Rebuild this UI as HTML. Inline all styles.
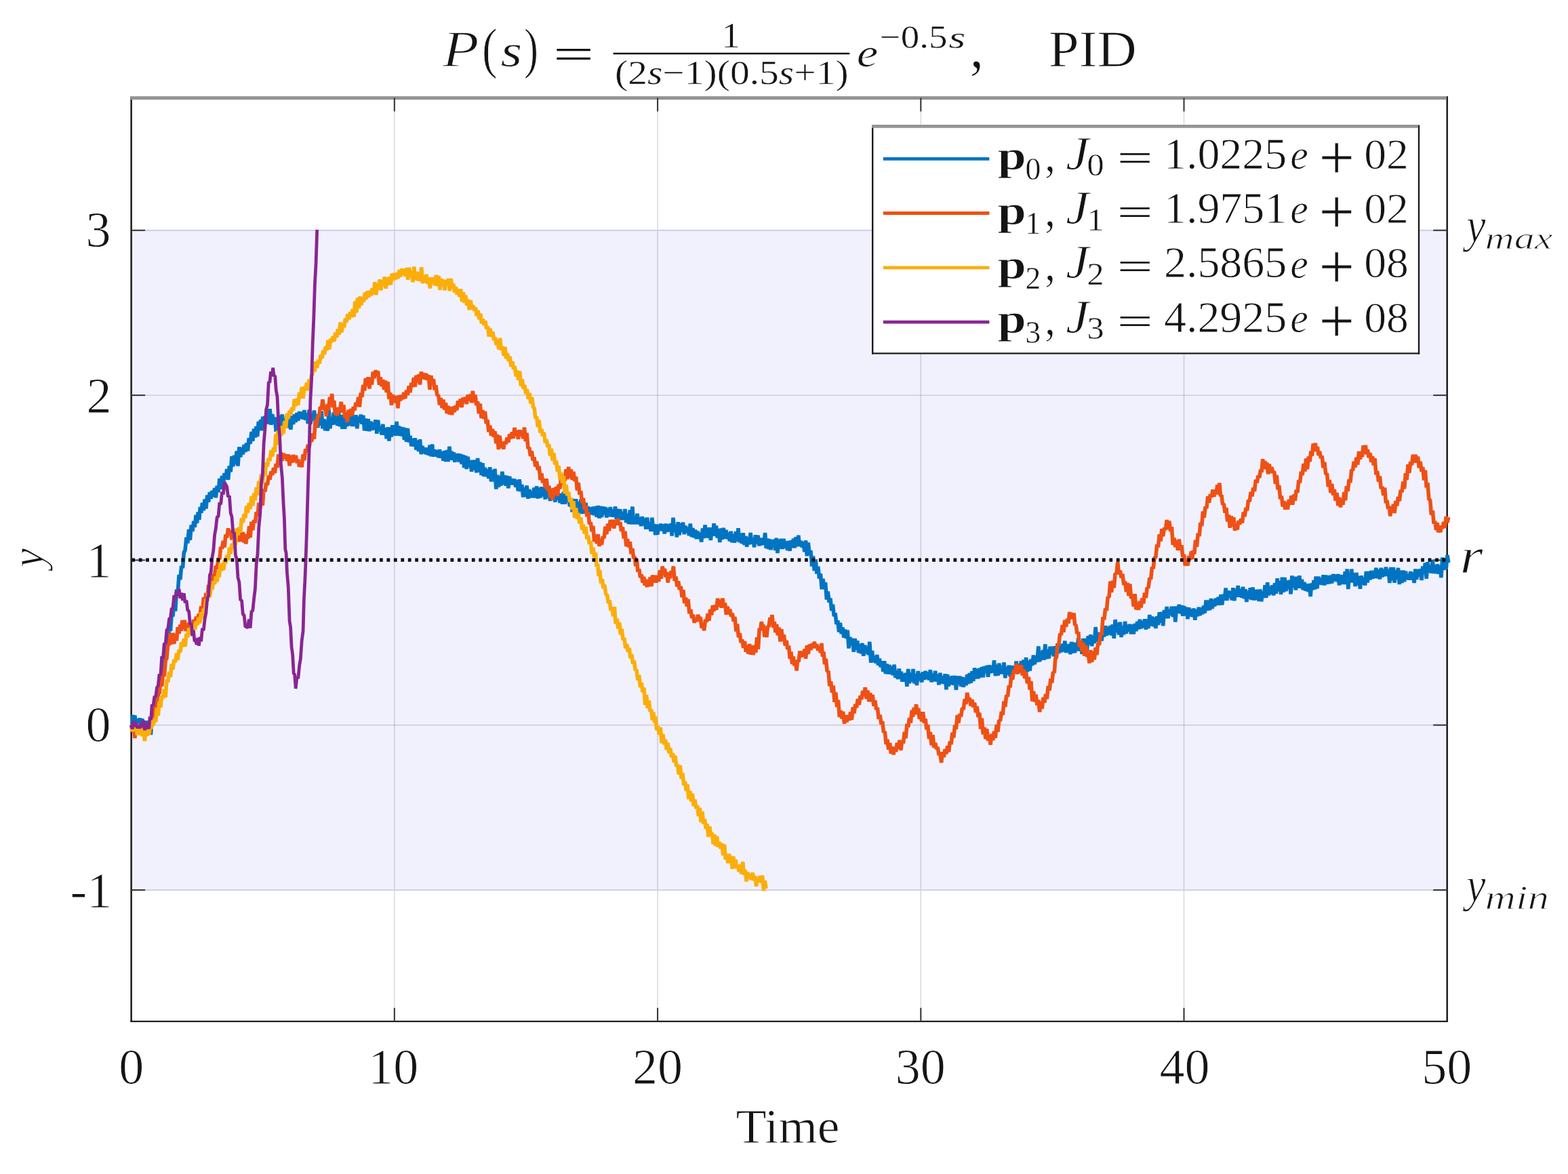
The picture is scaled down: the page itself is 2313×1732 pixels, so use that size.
<!DOCTYPE html>
<html lang="en"><head><meta charset="utf-8"><title>P(s) PID response</title>
<style>html,body{margin:0;padding:0;background:#fff}body{width:2313px;height:1732px}svg{display:block}text{font-family:"Liberation Serif","DejaVu Serif",serif;fill:#141414;stroke:#fff;stroke-linejoin:round}text:not([stroke-width]){stroke-width:0.9px}</style></head><body>
<svg width="2313" height="1732" viewBox="0 0 2313 1732">
<rect x="0" y="0" width="2313" height="1732" fill="#ffffff"/>
<rect x="193.65" y="339.80" width="1941.05" height="973.20" fill="#F1F1FE"/>
<g stroke="#000" stroke-opacity="0.125" stroke-width="1.9" fill="none"><line x1="581.86" y1="144.40" x2="581.86" y2="1506.90"/><line x1="970.07" y1="144.40" x2="970.07" y2="1506.90"/><line x1="1358.28" y1="144.40" x2="1358.28" y2="1506.90"/><line x1="1746.49" y1="144.40" x2="1746.49" y2="1506.90"/><line x1="193.65" y1="1069.70" x2="2134.70" y2="1069.70"/><line x1="193.65" y1="583.10" x2="2134.70" y2="583.10"/></g>
<line x1="193.65" y1="339.90" x2="2134.70" y2="339.90" stroke="#D1CFEE" stroke-width="2.2"/>
<line x1="193.65" y1="1313.10" x2="2134.70" y2="1313.10" stroke="#D6D3E0" stroke-width="2.1"/>
<g stroke="#222" stroke-width="2.6" fill="none" stroke-linecap="butt">
<line x1="193.65" y1="142.00" x2="193.65" y2="1508.10"/>
<line x1="2134.70" y1="142.00" x2="2134.70" y2="1508.10"/>
<line x1="192.35" y1="1506.90" x2="2136.00" y2="1506.90" stroke-width="2.4"/>
</g>
<line x1="192.35" y1="144.40" x2="2133.70" y2="144.40" stroke="#949494" stroke-width="5"/>
<g stroke="#3a3a3a" stroke-width="2.1" fill="none"><line x1="581.86" y1="1506.90" x2="581.86" y2="1486.90"/><line x1="581.86" y1="144.40" x2="581.86" y2="164.40"/><line x1="970.07" y1="1506.90" x2="970.07" y2="1486.90"/><line x1="970.07" y1="144.40" x2="970.07" y2="164.40"/><line x1="1358.28" y1="1506.90" x2="1358.28" y2="1486.90"/><line x1="1358.28" y1="144.40" x2="1358.28" y2="164.40"/><line x1="1746.49" y1="1506.90" x2="1746.49" y2="1486.90"/><line x1="1746.49" y1="144.40" x2="1746.49" y2="164.40"/><line x1="193.65" y1="1313.00" x2="214.15" y2="1313.00"/><line x1="2134.70" y1="1313.00" x2="2114.20" y2="1313.00"/><line x1="193.65" y1="1069.70" x2="214.15" y2="1069.70"/><line x1="2134.70" y1="1069.70" x2="2114.20" y2="1069.70"/><line x1="193.65" y1="826.40" x2="214.15" y2="826.40"/><line x1="2134.70" y1="826.40" x2="2114.20" y2="826.40"/><line x1="193.65" y1="583.10" x2="214.15" y2="583.10"/><line x1="2134.70" y1="583.10" x2="2114.20" y2="583.10"/><line x1="193.65" y1="339.80" x2="214.15" y2="339.80"/><line x1="2134.70" y1="339.80" x2="2114.20" y2="339.80"/></g>
<g fill="none" stroke-width="5.6" stroke-linejoin="bevel" stroke-linecap="butt">
<path stroke="#0074C2" d="M193.4 1069.7 L194.8 1074.4 L196.2 1054.7 L197.5 1069.5 L198.9 1055.5 L200.7 1073.2 L202.5 1060.7 L204.3 1072.6 L206.1 1059.3 L207.9 1078.4 L209.7 1060.2 L211.6 1077.9 L213.4 1065.7 L215.2 1083.4 L217.0 1063.3 L218.8 1075.1 L220.6 1064.4 L222.4 1084.0 L224.2 1062.4 L226.0 1066.4 L227.9 1041.1 L229.7 1045.8 L231.5 1026.8 L233.3 1027.0 L235.1 1007.2 L236.9 1006.7 L238.7 984.6 L240.5 990.7 L242.3 967.1 L244.2 974.0 L246.0 944.6 L247.8 951.6 L249.6 926.1 L251.4 931.0 L253.2 907.1 L255.0 909.2 L256.8 887.5 L258.7 901.7 L260.5 869.6 L262.3 873.5 L264.1 848.0 L265.9 855.0 L267.7 834.8 L269.5 838.1 L271.3 815.0 L273.1 811.9 L275.0 792.8 L276.8 801.4 L278.6 781.1 L280.4 796.9 L282.2 774.5 L284.0 783.8 L285.8 768.8 L287.4 777.8 L289.0 759.8 L290.6 771.7 L292.2 755.6 L293.8 766.9 L295.3 747.9 L296.9 756.6 L298.5 741.8 L300.3 753.3 L302.1 736.6 L303.9 750.6 L305.8 730.4 L307.6 740.7 L309.4 726.2 L311.2 735.9 L313.0 723.9 L314.8 732.6 L316.6 720.1 L318.4 734.2 L320.2 716.9 L322.1 726.2 L323.9 705.9 L325.7 721.8 L327.5 702.0 L329.3 715.3 L331.1 698.0 L332.9 707.0 L334.7 692.0 L336.6 707.8 L338.4 687.2 L340.2 696.3 L342.0 673.2 L343.8 688.1 L345.6 671.9 L347.4 685.2 L349.2 665.5 L351.0 687.6 L352.9 659.4 L354.7 674.3 L356.5 660.4 L358.3 670.5 L360.1 656.2 L361.9 666.8 L363.7 653.7 L365.5 665.3 L367.3 646.3 L369.2 654.8 L371.0 637.0 L372.8 650.8 L374.6 632.5 L376.4 645.4 L378.0 629.0 L379.7 644.0 L381.3 622.0 L382.9 632.8 L384.6 619.3 L386.1 635.2 L387.7 614.7 L389.3 625.9 L390.9 613.8 L392.7 624.5 L394.5 604.6 L396.3 625.8 L398.1 603.3 L400.0 626.7 L401.8 611.0 L403.6 625.6 L405.4 615.6 L407.2 636.8 L409.0 616.3 L410.8 628.7 L412.6 613.2 L414.4 628.1 L416.3 611.4 L418.1 630.3 L419.9 617.5 L421.7 631.0 L423.5 613.7 L425.3 631.1 L427.1 617.7 L428.9 633.8 L430.8 613.4 L432.6 625.9 L434.4 611.4 L436.2 622.8 L438.0 609.2 L439.8 620.6 L441.6 607.2 L443.4 617.4 L445.2 607.7 L447.1 618.5 L448.9 605.1 L450.7 619.7 L452.5 609.3 L454.3 625.0 L456.1 604.6 L457.9 625.8 L459.7 610.5 L461.6 621.2 L463.4 605.5 L465.2 619.5 L467.0 611.2 L468.8 631.0 L470.6 613.7 L472.4 627.6 L474.2 606.4 L476.0 632.4 L477.9 618.3 L479.7 635.2 L481.5 620.4 L483.3 635.6 L485.1 604.6 L486.9 632.2 L488.7 616.1 L490.5 626.7 L492.3 608.4 L494.2 626.2 L496.0 610.6 L497.8 627.9 L499.6 607.7 L501.4 629.2 L503.2 612.1 L505.0 632.8 L506.8 612.6 L508.7 632.7 L510.5 613.7 L512.3 629.0 L514.1 612.5 L515.9 627.5 L517.7 613.0 L519.5 628.9 L521.3 612.6 L523.1 628.9 L525.0 612.2 L526.8 632.2 L528.6 614.6 L530.4 623.4 L532.2 611.7 L534.0 625.7 L535.8 612.6 L537.6 635.3 L539.4 617.6 L541.3 635.6 L543.1 618.1 L544.9 636.1 L546.7 621.7 L548.5 634.5 L550.3 623.5 L552.1 633.7 L553.9 619.3 L555.8 639.8 L557.6 619.8 L559.4 636.3 L561.2 629.5 L563.0 641.2 L564.8 625.7 L566.6 641.7 L568.4 631.3 L570.2 647.2 L572.1 630.2 L573.9 650.5 L575.7 630.5 L577.2 644.4 L578.8 627.2 L580.4 642.0 L581.9 627.6 L583.5 642.9 L585.1 622.0 L586.7 642.5 L588.3 628.5 L589.9 643.0 L591.6 629.9 L593.2 643.4 L594.8 630.4 L596.4 649.0 L598.0 631.5 L599.6 651.7 L601.4 632.1 L603.2 652.4 L605.0 642.8 L606.8 658.2 L608.6 647.2 L610.4 658.6 L612.2 646.4 L614.0 663.7 L615.9 649.7 L617.7 666.0 L619.5 648.2 L621.3 670.0 L623.1 657.9 L624.9 668.7 L626.7 660.5 L628.5 670.2 L630.3 660.7 L632.2 671.4 L634.0 656.7 L635.8 673.3 L637.6 655.5 L639.4 673.6 L641.2 663.4 L643.0 673.1 L644.8 664.3 L646.7 674.9 L648.5 663.2 L650.3 675.7 L652.1 666.5 L653.9 679.5 L655.7 665.0 L657.5 681.0 L659.3 664.1 L661.1 680.9 L663.0 658.8 L664.5 678.0 L666.1 665.8 L667.7 678.9 L669.3 667.4 L670.9 681.8 L672.5 669.5 L674.1 679.5 L675.6 669.2 L677.4 681.5 L679.3 669.9 L681.1 684.7 L682.9 670.9 L684.7 690.1 L686.5 672.3 L688.3 691.9 L690.1 673.8 L691.9 689.1 L693.8 679.4 L695.6 695.8 L697.4 678.8 L699.2 693.2 L701.0 678.7 L702.8 697.3 L704.6 675.9 L706.4 696.3 L708.2 681.7 L710.1 700.9 L711.9 683.2 L713.7 702.8 L715.5 690.0 L717.3 703.0 L719.1 692.4 L720.9 705.8 L722.7 689.2 L724.6 710.5 L726.4 693.6 L728.2 710.1 L730.0 691.7 L731.8 721.6 L733.6 700.8 L735.4 718.6 L737.2 702.0 L739.0 716.6 L740.9 695.8 L742.7 715.0 L744.5 701.3 L746.3 716.6 L748.1 702.1 L749.9 720.1 L751.7 703.0 L753.5 714.9 L755.3 706.2 L757.2 715.3 L759.0 706.7 L760.8 718.5 L762.6 708.5 L764.4 724.5 L766.2 707.3 L768.0 725.0 L769.8 715.0 L771.7 733.4 L773.5 719.1 L775.3 732.8 L777.1 716.4 L778.9 735.7 L780.7 722.0 L782.5 734.3 L784.3 724.7 L786.1 734.0 L788.0 719.5 L789.8 734.3 L791.6 717.3 L793.4 735.4 L795.2 719.6 L797.0 734.5 L798.8 718.4 L800.6 732.5 L802.4 718.6 L804.3 736.6 L806.1 716.1 L807.9 734.7 L809.7 716.8 L811.5 739.0 L813.3 725.2 L815.1 737.3 L816.9 725.8 L818.8 740.6 L820.6 726.9 L822.4 737.1 L824.2 727.9 L826.0 742.0 L827.8 728.1 L829.6 743.8 L831.4 725.6 L833.2 743.7 L835.1 729.9 L836.9 741.2 L838.7 731.9 L840.5 747.2 L842.3 735.1 L844.1 755.2 L845.9 736.2 L847.7 748.9 L849.6 736.4 L851.4 753.7 L853.2 740.2 L855.0 756.4 L856.8 737.0 L858.6 757.9 L860.4 746.0 L862.2 757.2 L864.0 741.8 L865.9 758.0 L867.7 747.5 L869.5 757.2 L871.3 748.7 L873.1 759.2 L874.9 747.7 L876.7 760.2 L878.5 747.2 L880.3 762.6 L882.2 746.1 L884.0 764.6 L885.8 746.7 L887.6 762.9 L889.4 747.4 L891.2 759.0 L893.0 748.0 L894.8 763.5 L896.7 749.9 L898.5 761.9 L900.3 748.0 L902.1 762.3 L903.9 751.8 L905.7 762.6 L907.5 747.4 L909.3 765.6 L911.1 750.7 L913.0 767.2 L914.8 751.4 L916.6 767.0 L918.4 755.2 L920.2 766.8 L922.0 751.0 L923.8 770.9 L925.6 758.2 L927.4 773.0 L929.3 752.6 L931.1 773.4 L932.9 747.5 L934.7 773.3 L936.5 762.6 L938.3 773.2 L940.1 757.9 L941.9 773.4 L943.8 763.5 L945.6 776.1 L947.4 762.1 L949.2 775.0 L951.0 764.5 L952.8 780.6 L954.6 763.6 L956.4 780.2 L958.2 770.7 L960.1 783.9 L961.9 763.8 L963.7 783.6 L965.2 773.2 L966.8 789.1 L968.4 773.6 L969.9 788.7 L971.5 774.0 L973.1 782.8 L974.9 772.7 L976.7 783.2 L978.5 773.5 L980.3 787.3 L982.1 772.7 L983.9 784.8 L985.7 773.7 L987.6 784.1 L989.4 772.4 L991.2 790.5 L993.0 763.8 L994.8 784.7 L996.6 773.9 L998.4 792.6 L1000.2 770.2 L1002.0 789.4 L1003.9 772.1 L1005.7 784.8 L1007.5 770.7 L1009.3 788.2 L1011.1 775.7 L1012.9 785.9 L1014.7 778.0 L1016.5 790.1 L1018.3 772.6 L1020.2 792.1 L1022.0 779.0 L1023.8 793.1 L1025.6 781.7 L1027.4 795.0 L1029.2 783.6 L1031.0 794.9 L1032.8 786.1 L1034.7 799.5 L1036.5 779.6 L1038.3 794.1 L1040.1 774.5 L1041.9 793.1 L1043.5 778.5 L1045.2 793.7 L1046.8 778.2 L1048.4 796.9 L1050.1 779.8 L1051.6 789.8 L1053.1 772.2 L1054.6 790.8 L1056.4 775.5 L1058.2 793.5 L1060.0 780.2 L1061.8 799.9 L1063.6 779.6 L1065.4 796.0 L1067.3 778.7 L1069.1 794.6 L1070.9 782.0 L1072.7 795.1 L1074.5 785.6 L1076.3 798.3 L1078.1 783.8 L1079.9 800.3 L1081.8 788.2 L1083.6 800.7 L1085.4 784.3 L1087.2 798.5 L1089.0 779.2 L1090.8 800.1 L1092.6 787.0 L1094.4 801.9 L1096.2 786.4 L1098.1 803.9 L1099.9 791.1 L1101.7 806.6 L1103.5 792.6 L1105.3 803.2 L1107.1 786.1 L1108.9 802.5 L1110.7 793.7 L1112.6 807.3 L1114.4 789.3 L1116.2 802.4 L1118.0 789.8 L1119.8 805.3 L1121.6 793.8 L1123.4 804.4 L1125.2 793.8 L1126.9 803.5 L1128.6 786.1 L1130.2 808.8 L1131.9 794.5 L1133.5 809.9 L1135.2 795.4 L1136.9 811.1 L1138.6 796.9 L1140.2 806.0 L1141.9 795.9 L1143.6 811.9 L1145.3 793.8 L1147.0 816.1 L1148.8 795.7 L1150.6 809.5 L1152.4 794.8 L1154.2 809.8 L1156.0 794.9 L1157.8 808.6 L1159.7 798.5 L1161.5 812.0 L1163.3 798.2 L1165.1 812.8 L1166.9 797.2 L1168.7 807.8 L1170.5 794.6 L1172.3 808.3 L1174.1 792.2 L1176.0 806.2 L1177.8 789.7 L1179.6 805.8 L1181.4 797.9 L1183.2 807.6 L1185.0 799.3 L1186.8 814.2 L1188.6 797.4 L1190.4 820.3 L1192.3 800.5 L1194.1 818.0 L1195.9 812.0 L1197.7 835.5 L1199.5 820.4 L1201.3 841.9 L1203.1 825.3 L1204.9 846.4 L1206.8 835.9 L1208.6 853.5 L1210.4 846.1 L1212.2 869.3 L1214.0 853.9 L1215.8 868.6 L1217.6 859.3 L1219.4 884.6 L1221.2 872.6 L1223.1 888.6 L1224.9 882.6 L1226.7 901.0 L1228.5 891.7 L1230.3 909.1 L1232.1 904.3 L1233.9 920.9 L1235.7 915.3 L1237.6 932.5 L1239.4 918.8 L1241.2 935.1 L1243.0 925.6 L1244.8 940.7 L1246.6 928.6 L1248.4 941.9 L1250.2 929.8 L1252.0 956.5 L1253.9 940.0 L1255.7 950.9 L1257.5 941.9 L1259.3 961.7 L1261.1 942.1 L1262.9 959.0 L1264.7 945.2 L1266.5 963.0 L1268.3 950.5 L1270.2 964.0 L1272.0 948.9 L1273.8 967.8 L1275.6 951.7 L1277.4 964.1 L1279.2 954.2 L1281.0 966.2 L1282.8 946.8 L1284.7 977.7 L1286.5 960.0 L1288.3 976.8 L1290.1 968.1 L1291.9 978.2 L1293.7 966.2 L1295.5 981.5 L1297.3 971.7 L1299.1 984.2 L1301.0 975.4 L1302.8 990.9 L1304.6 975.2 L1306.4 994.0 L1308.2 979.6 L1310.0 994.5 L1311.8 980.9 L1313.6 994.6 L1315.4 982.8 L1317.3 996.2 L1319.1 980.6 L1320.9 999.8 L1322.7 989.7 L1324.5 1001.8 L1326.3 986.6 L1327.9 1001.5 L1329.4 990.9 L1330.9 1005.7 L1332.5 993.9 L1334.3 1005.6 L1336.1 992.8 L1337.9 1012.8 L1339.7 987.0 L1341.5 1008.2 L1343.3 992.5 L1345.2 1005.5 L1347.0 987.1 L1348.8 1008.3 L1350.6 994.2 L1352.4 1011.0 L1354.2 990.0 L1356.0 1004.3 L1357.8 993.4 L1359.7 1006.5 L1361.5 991.4 L1363.3 1002.8 L1365.1 990.0 L1366.9 1001.7 L1368.7 991.6 L1370.5 1003.4 L1372.3 988.2 L1374.1 1006.3 L1376.0 993.7 L1377.8 1005.1 L1379.6 989.9 L1381.4 1005.5 L1383.2 995.1 L1385.0 1010.3 L1386.8 992.8 L1388.6 1008.2 L1390.4 997.4 L1392.3 1008.9 L1394.1 994.3 L1395.9 1017.3 L1397.7 995.1 L1399.5 1012.4 L1401.3 998.0 L1403.1 1009.8 L1404.9 997.1 L1406.8 1010.6 L1408.6 996.9 L1410.4 1017.7 L1412.2 997.6 L1414.0 1009.6 L1415.8 997.5 L1417.6 1012.7 L1419.4 998.9 L1421.2 1013.7 L1423.1 999.8 L1424.9 1011.3 L1426.7 995.1 L1428.5 1009.0 L1430.3 993.1 L1432.1 1007.7 L1433.9 990.3 L1435.7 1004.9 L1437.6 985.4 L1439.4 1001.3 L1441.2 986.9 L1443.0 1001.2 L1444.8 985.8 L1446.6 999.5 L1448.4 984.0 L1450.2 999.2 L1452.0 983.1 L1453.9 992.5 L1455.7 981.9 L1457.5 998.8 L1459.3 981.2 L1461.1 993.0 L1462.9 982.5 L1464.7 992.2 L1466.5 974.2 L1468.3 997.1 L1470.2 980.8 L1472.0 996.6 L1473.8 978.6 L1475.6 994.4 L1477.4 981.8 L1479.2 994.0 L1481.0 977.3 L1482.8 1000.2 L1484.7 983.5 L1486.5 995.4 L1488.3 981.5 L1490.1 998.1 L1491.9 982.1 L1493.7 996.6 L1495.5 982.6 L1497.3 991.8 L1499.1 975.5 L1501.0 993.9 L1502.8 979.4 L1504.6 992.4 L1506.4 975.2 L1508.2 993.5 L1510.0 973.4 L1511.8 991.5 L1513.6 970.0 L1515.4 991.1 L1517.3 974.5 L1519.1 989.7 L1520.9 972.6 L1522.7 981.8 L1524.5 966.7 L1526.3 980.0 L1528.1 967.7 L1529.9 976.7 L1531.8 953.5 L1533.6 976.0 L1535.4 963.3 L1536.9 973.6 L1538.5 959.0 L1540.0 973.6 L1541.8 950.4 L1543.6 972.2 L1545.4 958.3 L1547.2 971.5 L1549.1 953.8 L1550.9 965.8 L1552.7 953.8 L1554.5 968.4 L1556.3 953.3 L1558.1 971.0 L1559.9 949.4 L1561.7 963.8 L1563.6 952.8 L1565.4 962.1 L1567.2 949.9 L1569.0 961.3 L1570.8 945.6 L1572.6 963.0 L1574.2 951.0 L1575.8 962.5 L1577.4 950.2 L1578.9 965.2 L1580.6 947.0 L1582.2 963.5 L1583.8 948.1 L1585.5 963.1 L1587.1 948.3 L1588.9 960.2 L1590.7 941.2 L1592.5 960.6 L1594.3 945.8 L1596.2 965.1 L1598.0 941.9 L1599.8 954.9 L1601.6 942.1 L1603.4 960.2 L1605.2 938.3 L1607.0 950.5 L1608.8 936.4 L1610.7 953.2 L1612.5 938.5 L1614.3 949.0 L1616.1 925.1 L1617.9 946.9 L1619.7 933.1 L1621.5 947.5 L1623.3 933.0 L1625.1 945.5 L1627.0 925.4 L1628.8 939.4 L1630.6 923.2 L1632.4 937.5 L1634.2 924.9 L1636.0 936.1 L1637.8 923.1 L1639.6 937.3 L1641.4 921.4 L1643.3 941.8 L1645.1 914.1 L1646.9 933.0 L1648.7 918.8 L1650.5 936.5 L1652.3 917.8 L1654.1 940.0 L1655.9 923.7 L1657.8 936.3 L1659.6 916.9 L1661.4 934.5 L1663.2 921.7 L1665.0 931.5 L1666.8 920.9 L1668.6 935.4 L1670.4 921.6 L1672.2 935.5 L1674.1 920.0 L1675.9 931.1 L1677.7 917.1 L1679.5 928.3 L1681.3 913.9 L1683.1 927.2 L1684.9 916.1 L1686.7 925.9 L1688.6 913.3 L1690.4 928.6 L1692.2 913.5 L1694.0 926.9 L1695.8 907.0 L1697.6 923.0 L1699.4 909.7 L1701.2 924.2 L1703.0 910.8 L1704.9 926.9 L1706.7 909.4 L1708.5 921.9 L1710.3 903.2 L1712.1 918.6 L1713.9 902.9 L1715.7 923.3 L1717.5 900.0 L1719.3 912.3 L1721.2 895.0 L1723.0 912.2 L1724.8 899.0 L1726.6 907.5 L1728.4 894.9 L1730.2 909.9 L1732.0 894.8 L1733.8 917.6 L1735.7 894.5 L1737.5 904.0 L1739.3 891.9 L1741.1 905.2 L1742.9 893.1 L1744.7 908.6 L1746.5 894.0 L1748.3 908.2 L1750.1 895.7 L1752.0 913.1 L1753.8 896.5 L1755.6 909.3 L1757.4 898.8 L1759.2 910.0 L1761.0 897.6 L1762.8 914.7 L1764.6 899.3 L1766.4 909.2 L1768.3 896.0 L1770.1 908.1 L1771.9 896.8 L1773.7 906.1 L1775.5 893.6 L1777.3 904.5 L1779.1 885.5 L1780.9 900.7 L1782.8 885.9 L1784.6 900.1 L1786.4 883.1 L1788.2 897.9 L1790.0 884.6 L1791.8 894.6 L1793.6 882.6 L1795.4 892.6 L1797.2 881.0 L1799.1 892.8 L1800.9 877.2 L1802.7 892.5 L1804.5 876.9 L1806.3 885.4 L1808.1 867.6 L1809.9 885.9 L1811.7 871.5 L1813.6 882.0 L1815.4 872.2 L1817.2 885.4 L1819.0 867.2 L1820.8 886.2 L1822.6 869.1 L1824.4 880.8 L1826.2 864.0 L1828.0 880.5 L1829.9 869.0 L1831.7 881.7 L1833.5 865.7 L1835.3 883.2 L1837.1 869.3 L1838.9 887.9 L1840.7 871.9 L1842.5 883.3 L1844.3 867.3 L1846.2 884.9 L1848.0 866.6 L1849.8 885.6 L1851.6 870.0 L1853.4 884.7 L1855.2 869.9 L1857.0 886.9 L1858.8 869.6 L1860.7 887.3 L1862.5 872.7 L1864.3 882.1 L1866.1 863.2 L1867.9 881.9 L1869.7 859.3 L1871.5 878.3 L1873.3 865.1 L1875.1 876.9 L1877.0 863.4 L1878.8 878.3 L1880.6 860.4 L1882.4 875.7 L1884.2 853.2 L1886.0 872.5 L1887.8 857.2 L1889.6 876.9 L1891.4 851.7 L1893.3 873.8 L1895.1 851.9 L1896.9 872.1 L1898.7 856.7 L1900.5 869.0 L1902.3 856.0 L1904.1 876.4 L1905.9 849.4 L1907.8 867.1 L1909.6 851.1 L1911.4 870.4 L1913.2 850.7 L1915.0 867.7 L1916.8 849.3 L1918.6 867.8 L1920.4 854.7 L1922.2 870.3 L1924.1 858.9 L1925.9 871.5 L1927.7 861.8 L1929.5 872.7 L1931.3 861.2 L1933.1 879.9 L1934.9 860.4 L1936.5 870.3 L1938.0 856.0 L1939.6 869.5 L1941.2 850.6 L1943.0 868.2 L1944.8 850.8 L1946.6 862.0 L1948.4 852.7 L1950.2 862.8 L1952.0 848.3 L1953.8 863.5 L1955.7 848.6 L1957.5 861.7 L1959.3 849.3 L1961.1 861.0 L1962.9 848.9 L1964.7 860.5 L1966.5 847.0 L1968.3 857.0 L1970.1 847.7 L1972.0 858.1 L1973.8 847.1 L1975.6 863.4 L1977.4 848.0 L1979.2 861.8 L1981.0 848.4 L1982.8 862.0 L1984.2 843.3 L1985.5 855.3 L1987.2 839.6 L1988.8 869.1 L1990.4 845.6 L1992.1 859.5 L1993.7 839.6 L1995.5 859.3 L1997.3 845.3 L1999.1 865.0 L2000.9 844.9 L2002.8 863.1 L2004.6 850.1 L2006.4 868.8 L2008.2 849.3 L2010.0 862.2 L2011.8 852.5 L2013.6 863.6 L2015.4 843.1 L2017.2 859.4 L2019.1 843.2 L2020.9 855.4 L2022.7 842.1 L2024.5 853.8 L2026.3 842.0 L2028.1 852.9 L2029.9 837.8 L2031.7 853.2 L2033.6 840.4 L2035.4 854.5 L2037.2 837.9 L2039.0 851.3 L2040.8 839.6 L2042.6 850.0 L2044.4 836.7 L2046.2 849.3 L2048.0 839.8 L2049.9 860.0 L2051.7 837.0 L2053.5 856.3 L2055.3 837.0 L2057.1 859.8 L2058.9 841.1 L2060.7 854.3 L2062.5 837.9 L2064.3 862.0 L2066.2 841.7 L2068.0 860.1 L2069.8 841.5 L2071.6 858.2 L2073.4 842.7 L2075.2 855.0 L2077.0 847.0 L2078.8 855.5 L2080.7 843.2 L2082.5 855.2 L2084.3 844.6 L2086.1 859.9 L2087.9 839.6 L2089.7 854.8 L2091.5 840.0 L2093.3 850.6 L2095.1 839.4 L2097.0 856.0 L2098.8 835.6 L2100.6 845.9 L2102.4 830.5 L2104.2 853.8 L2106.0 829.1 L2107.8 844.3 L2109.6 833.6 L2111.4 845.6 L2113.3 826.0 L2115.1 846.0 L2116.9 834.0 L2118.7 846.0 L2120.5 832.4 L2122.3 846.7 L2124.1 834.3 L2125.9 852.1 L2127.8 822.4 L2129.6 840.9 L2131.4 823.9 L2133.2 839.8 L2135.0 818.9 L2136.8 830.1"/>
<path stroke="#EF5014" d="M193.4 1069.7 L195.2 1075.4 L197.1 1067.6 L198.9 1089.0 L200.7 1067.6 L202.5 1077.3 L204.3 1069.7 L206.1 1080.4 L207.9 1068.6 L209.7 1078.7 L211.6 1067.9 L213.4 1078.0 L215.2 1069.3 L217.0 1084.8 L218.8 1067.4 L220.6 1083.7 L222.4 1058.1 L224.2 1064.7 L226.0 1049.5 L227.9 1053.2 L229.7 1032.6 L231.5 1035.8 L233.3 1019.3 L235.1 1023.4 L236.9 1003.0 L238.7 1012.8 L240.5 991.3 L242.3 998.1 L244.2 974.3 L246.0 971.3 L247.8 949.5 L249.6 952.0 L251.4 933.8 L253.2 950.5 L255.0 933.8 L256.8 949.8 L258.7 935.0 L260.5 945.3 L262.3 925.3 L264.1 934.6 L265.9 921.7 L267.4 930.8 L268.9 915.2 L270.4 927.8 L272.2 914.8 L274.1 930.9 L275.6 920.6 L277.2 932.0 L278.8 918.5 L280.4 930.9 L282.2 918.9 L284.0 928.7 L285.8 914.0 L287.6 923.7 L289.4 909.7 L291.3 920.7 L293.1 905.6 L294.9 910.7 L296.7 894.2 L298.5 910.7 L300.3 881.3 L302.1 891.8 L303.9 874.9 L305.8 886.5 L307.6 862.8 L309.4 873.4 L311.2 856.6 L313.0 860.2 L314.8 846.8 L316.6 849.7 L318.4 834.6 L320.2 839.5 L322.1 823.2 L323.9 824.9 L325.7 807.0 L327.5 809.6 L329.3 798.0 L331.1 807.5 L332.9 788.8 L334.7 793.4 L336.6 779.5 L338.4 788.8 L340.2 782.2 L342.0 796.5 L343.8 781.3 L345.6 795.9 L347.4 785.0 L349.2 796.5 L351.0 785.1 L352.9 799.0 L354.7 786.3 L356.5 798.6 L358.3 784.9 L359.8 800.5 L361.3 790.2 L362.8 802.5 L364.4 787.8 L366.0 794.5 L367.6 776.2 L369.2 793.1 L371.0 769.8 L372.8 782.2 L374.6 767.1 L376.4 771.8 L378.2 755.4 L380.0 761.4 L381.8 741.8 L383.7 750.5 L385.5 734.7 L387.3 745.9 L389.1 721.4 L390.9 725.3 L392.7 712.1 L394.5 715.6 L396.3 701.7 L398.1 707.6 L400.0 695.5 L401.8 700.8 L403.6 690.2 L405.4 697.8 L407.2 684.2 L409.0 689.7 L410.8 670.3 L412.6 683.7 L414.4 667.3 L416.3 679.8 L418.1 668.9 L419.9 675.7 L421.7 670.3 L423.5 680.1 L425.3 670.3 L427.1 687.3 L428.9 671.7 L430.8 682.6 L432.6 671.1 L434.4 681.0 L436.2 671.9 L438.0 683.0 L439.8 677.8 L441.6 688.6 L443.4 681.8 L445.2 689.1 L447.1 670.2 L448.9 679.1 L450.7 662.3 L452.5 667.0 L454.3 656.0 L456.1 659.8 L457.9 649.3 L459.7 651.6 L461.6 639.5 L463.4 647.7 L465.2 619.5 L467.0 629.7 L468.8 612.6 L470.6 615.7 L472.4 600.0 L474.2 603.4 L476.0 589.3 L477.9 604.7 L479.7 600.9 L481.5 614.1 L483.1 596.2 L484.7 605.2 L486.4 585.7 L488.0 598.0 L489.6 581.0 L491.2 601.4 L492.8 591.0 L494.4 611.6 L496.0 609.4 L497.8 612.6 L499.6 600.9 L501.4 608.4 L503.2 592.8 L505.0 608.7 L506.8 597.2 L508.7 616.1 L510.5 610.9 L512.3 622.8 L514.1 604.7 L515.9 614.2 L517.7 603.1 L519.5 613.2 L521.3 600.1 L523.1 605.2 L525.0 594.0 L526.8 599.4 L528.6 585.8 L530.4 600.5 L532.2 579.4 L534.0 585.7 L535.8 567.8 L537.6 576.4 L539.4 557.9 L541.3 569.6 L543.1 556.3 L544.9 573.4 L546.7 557.1 L548.5 567.5 L550.3 548.5 L552.1 558.2 L553.9 546.3 L555.8 552.4 L557.6 547.4 L559.4 567.7 L561.2 556.3 L563.0 569.9 L564.8 560.2 L566.6 574.8 L568.4 561.5 L570.2 579.0 L572.1 563.2 L573.9 588.8 L575.7 579.2 L577.5 597.7 L579.1 582.1 L580.6 594.4 L582.2 584.0 L583.7 593.6 L585.3 584.6 L586.9 602.2 L588.7 583.2 L590.5 591.2 L592.3 582.9 L594.1 588.9 L595.9 578.9 L597.7 587.9 L599.6 575.7 L601.4 583.0 L603.2 569.3 L605.0 579.1 L606.8 564.9 L608.6 570.7 L610.4 557.1 L612.2 570.8 L614.0 553.7 L615.9 564.2 L617.7 552.4 L619.5 567.5 L621.3 548.5 L623.1 558.4 L624.9 550.6 L626.7 559.8 L628.5 550.9 L630.3 560.7 L632.2 553.2 L634.0 574.7 L635.8 554.2 L637.6 566.2 L639.4 559.2 L641.2 575.4 L643.0 568.4 L644.8 583.4 L646.7 582.8 L648.5 597.5 L650.3 587.2 L652.1 601.8 L653.9 589.6 L655.7 604.5 L657.5 594.4 L659.3 609.9 L661.1 599.0 L663.0 611.3 L664.8 600.4 L666.6 612.0 L668.4 599.8 L670.2 608.0 L672.0 598.6 L673.8 605.2 L675.6 591.4 L677.4 599.6 L679.3 588.7 L681.1 601.0 L682.9 586.8 L684.7 593.5 L686.5 585.8 L688.3 596.1 L690.1 582.4 L691.9 591.0 L693.8 581.8 L695.6 594.2 L697.4 576.7 L699.2 593.6 L701.0 582.6 L702.8 597.8 L704.6 592.4 L706.4 610.1 L708.2 595.5 L710.1 616.9 L711.9 605.2 L713.7 617.8 L715.5 607.0 L717.3 625.0 L719.1 619.4 L720.9 637.3 L722.7 627.6 L724.6 642.7 L726.4 632.9 L728.2 644.7 L730.0 636.2 L731.8 654.2 L733.6 641.0 L735.4 663.0 L737.2 642.8 L739.0 660.5 L740.9 652.1 L742.7 662.5 L744.5 651.1 L746.3 655.3 L748.1 645.5 L749.9 652.5 L751.7 640.4 L753.5 647.2 L755.3 637.6 L757.2 646.7 L759.0 631.0 L760.8 643.2 L762.6 635.5 L764.4 647.9 L766.2 634.4 L768.0 643.0 L769.8 635.3 L771.7 647.1 L773.5 630.5 L775.3 650.9 L777.1 638.7 L778.9 661.7 L780.7 660.2 L782.5 672.8 L784.3 665.3 L786.1 679.4 L788.0 674.4 L789.8 688.3 L791.6 680.6 L793.4 693.4 L795.2 687.7 L797.0 708.2 L798.8 698.3 L800.6 712.1 L802.4 706.0 L804.3 720.2 L806.1 706.4 L807.9 723.8 L809.7 718.0 L811.5 733.7 L813.3 720.5 L815.1 737.5 L816.9 719.9 L818.8 729.9 L820.6 718.2 L822.4 731.8 L824.2 714.6 L826.0 721.3 L827.8 704.8 L829.6 716.0 L831.4 704.3 L833.2 709.4 L835.1 692.3 L836.9 707.1 L838.7 688.7 L840.5 705.2 L842.3 692.6 L844.1 707.8 L845.9 695.8 L847.7 709.6 L849.6 703.2 L851.4 723.6 L853.2 712.0 L855.0 729.6 L856.8 724.3 L858.6 742.2 L860.4 734.8 L862.2 751.4 L864.0 745.9 L865.9 762.1 L867.7 755.5 L869.5 773.2 L871.3 770.3 L873.1 784.1 L874.9 776.0 L876.7 799.1 L878.5 788.8 L880.3 801.8 L882.2 788.3 L884.0 805.6 L885.8 799.1 L887.6 803.5 L889.4 791.4 L891.2 793.8 L893.0 776.8 L894.8 788.1 L896.7 772.6 L898.5 783.2 L900.3 767.1 L902.1 777.9 L903.9 767.0 L905.7 779.6 L907.5 766.8 L909.3 774.6 L911.1 765.2 L913.0 774.2 L914.8 770.2 L916.6 783.7 L918.4 777.5 L920.2 794.5 L922.0 783.7 L923.8 806.0 L925.6 795.1 L927.4 807.4 L929.3 799.3 L931.1 817.1 L932.9 809.0 L934.7 824.1 L936.2 820.9 L937.8 835.3 L939.3 824.4 L940.9 843.7 L942.7 839.3 L944.5 852.0 L946.3 847.6 L948.1 859.6 L949.7 850.9 L951.3 863.7 L952.9 856.2 L954.4 866.1 L956.1 854.8 L957.7 865.1 L959.3 851.4 L961.0 864.9 L962.6 848.5 L964.4 859.0 L966.2 848.9 L968.0 859.6 L969.8 849.1 L971.7 857.9 L973.5 841.3 L975.3 853.8 L977.1 835.6 L978.9 843.0 L980.5 839.1 L982.1 851.4 L983.7 844.1 L985.2 859.5 L986.8 847.8 L988.4 853.3 L990.0 842.4 L991.6 848.4 L993.4 835.4 L995.2 857.1 L997.0 850.7 L998.8 865.3 L1000.6 857.3 L1002.4 869.8 L1004.3 865.0 L1006.1 881.3 L1007.9 870.3 L1009.7 889.9 L1011.5 881.7 L1013.3 894.5 L1015.1 883.9 L1016.9 905.2 L1018.8 899.1 L1020.6 911.9 L1022.4 906.8 L1024.2 918.8 L1026.0 912.8 L1027.8 916.9 L1029.6 907.1 L1031.4 912.3 L1033.2 910.7 L1035.1 926.5 L1036.9 923.2 L1038.7 930.1 L1040.5 914.1 L1042.3 917.7 L1044.1 905.5 L1045.9 915.8 L1047.7 899.1 L1049.6 907.5 L1051.4 893.0 L1053.2 901.5 L1055.0 892.7 L1056.8 899.6 L1058.6 882.8 L1060.4 894.8 L1062.2 884.6 L1064.0 896.5 L1065.9 882.6 L1067.7 895.8 L1069.5 889.5 L1071.3 906.7 L1073.1 894.8 L1074.9 906.0 L1076.7 898.8 L1078.5 909.6 L1080.3 904.8 L1082.2 916.7 L1084.0 910.1 L1085.8 931.6 L1087.6 920.6 L1089.4 940.2 L1091.2 934.2 L1093.0 948.1 L1094.8 943.4 L1096.7 955.7 L1098.5 946.1 L1100.3 961.8 L1102.1 952.5 L1103.9 964.6 L1105.7 950.0 L1107.5 965.6 L1109.3 952.3 L1111.1 966.1 L1113.0 952.2 L1114.8 962.8 L1116.6 940.3 L1118.4 957.8 L1120.2 926.9 L1121.7 930.3 L1123.2 917.4 L1124.7 924.0 L1126.2 922.0 L1127.8 939.7 L1129.3 929.6 L1130.9 940.0 L1132.5 923.5 L1134.2 924.6 L1135.8 911.4 L1137.4 916.2 L1139.0 907.2 L1140.7 926.0 L1142.3 917.2 L1143.9 933.1 L1145.6 921.1 L1147.4 937.3 L1149.2 925.8 L1151.0 946.5 L1152.8 928.4 L1154.6 945.4 L1156.4 936.2 L1158.2 952.5 L1160.1 944.9 L1161.8 958.0 L1163.5 952.5 L1165.2 971.9 L1166.9 961.5 L1168.5 979.6 L1170.2 968.5 L1171.8 982.1 L1173.4 973.7 L1175.1 989.5 L1176.6 973.6 L1178.2 976.5 L1179.8 960.6 L1181.4 969.3 L1183.2 961.4 L1185.0 968.7 L1186.8 957.7 L1188.6 971.7 L1190.4 952.3 L1192.3 964.8 L1194.1 950.5 L1195.9 958.9 L1197.7 949.5 L1199.5 956.3 L1201.3 946.7 L1203.1 955.9 L1204.9 950.5 L1206.8 959.8 L1208.6 953.4 L1210.4 963.1 L1211.9 949.0 L1213.5 968.7 L1215.0 961.4 L1216.5 980.1 L1218.3 971.7 L1220.2 991.0 L1222.0 990.1 L1223.8 1012.3 L1225.6 1005.2 L1227.4 1021.8 L1229.2 1011.5 L1231.0 1035.8 L1232.8 1021.6 L1234.7 1043.0 L1236.5 1032.7 L1238.3 1057.9 L1240.1 1048.1 L1241.9 1060.3 L1243.7 1049.8 L1245.5 1067.7 L1247.3 1055.5 L1249.1 1065.2 L1251.0 1054.9 L1252.8 1062.9 L1254.6 1050.4 L1256.4 1061.9 L1258.2 1043.4 L1260.0 1052.3 L1261.8 1039.0 L1263.6 1043.9 L1265.4 1031.1 L1267.3 1039.9 L1269.1 1026.4 L1270.9 1031.9 L1272.7 1019.1 L1274.5 1025.9 L1276.3 1014.1 L1278.1 1031.0 L1279.9 1018.6 L1281.8 1035.0 L1283.6 1022.5 L1285.4 1035.2 L1287.2 1025.0 L1289.0 1041.7 L1290.8 1033.3 L1292.6 1046.8 L1294.4 1044.0 L1296.2 1060.8 L1298.1 1054.7 L1299.9 1068.7 L1301.7 1064.1 L1303.5 1080.7 L1305.3 1079.0 L1307.1 1098.0 L1308.9 1090.8 L1310.7 1105.9 L1312.6 1096.0 L1314.4 1111.8 L1316.2 1101.6 L1318.0 1113.2 L1319.8 1101.9 L1321.6 1109.2 L1323.4 1095.9 L1325.2 1104.6 L1327.0 1092.0 L1328.9 1106.9 L1330.7 1092.1 L1332.5 1096.8 L1334.3 1079.7 L1336.1 1089.3 L1337.9 1068.1 L1339.7 1073.0 L1341.5 1059.0 L1343.3 1066.4 L1345.2 1047.7 L1346.7 1057.5 L1348.3 1043.7 L1349.9 1054.3 L1351.5 1039.0 L1353.1 1052.5 L1354.7 1044.7 L1356.3 1060.8 L1357.8 1050.3 L1359.7 1064.5 L1361.5 1050.3 L1363.3 1066.8 L1365.1 1060.2 L1366.9 1076.2 L1368.7 1069.3 L1370.5 1090.1 L1372.3 1080.1 L1374.1 1099.4 L1376.0 1084.3 L1377.8 1103.1 L1379.6 1096.0 L1381.4 1105.2 L1383.2 1102.1 L1385.0 1114.0 L1386.8 1110.3 L1388.6 1125.2 L1390.4 1109.3 L1392.3 1117.1 L1394.1 1105.3 L1395.9 1112.3 L1397.7 1100.4 L1399.5 1109.4 L1401.3 1093.7 L1403.1 1098.1 L1404.9 1080.9 L1406.8 1088.3 L1408.6 1069.6 L1410.4 1075.8 L1412.2 1054.9 L1414.0 1066.5 L1415.8 1053.3 L1417.6 1057.1 L1419.4 1044.3 L1421.2 1046.9 L1423.1 1031.3 L1424.9 1038.9 L1426.7 1022.0 L1428.5 1034.1 L1430.3 1029.3 L1432.1 1041.4 L1433.9 1032.1 L1435.7 1043.3 L1437.6 1036.8 L1439.4 1051.2 L1441.2 1042.0 L1443.0 1057.9 L1444.8 1051.4 L1446.6 1075.5 L1448.4 1059.6 L1450.2 1083.4 L1452.0 1073.0 L1453.9 1090.1 L1455.7 1075.2 L1457.5 1092.6 L1459.3 1084.4 L1461.1 1098.8 L1462.9 1082.9 L1464.7 1092.0 L1466.5 1078.8 L1468.3 1088.8 L1470.2 1069.1 L1472.0 1079.6 L1473.8 1062.3 L1475.6 1063.6 L1477.4 1049.9 L1479.2 1054.7 L1481.0 1034.4 L1482.8 1042.8 L1484.7 1025.5 L1486.5 1027.8 L1488.3 1011.4 L1490.1 1014.1 L1491.9 995.8 L1493.7 1002.4 L1495.5 987.9 L1497.3 992.5 L1499.1 979.1 L1501.0 994.3 L1502.8 981.1 L1504.6 989.4 L1506.4 981.1 L1508.2 996.5 L1510.0 987.5 L1511.8 1001.0 L1513.6 991.9 L1515.4 1008.3 L1517.3 998.8 L1519.1 1017.6 L1520.9 1004.8 L1522.7 1034.7 L1524.5 1019.8 L1526.3 1035.4 L1528.1 1024.9 L1529.9 1040.3 L1531.8 1032.7 L1533.6 1050.4 L1535.4 1035.1 L1537.2 1045.8 L1539.0 1029.0 L1540.8 1036.5 L1542.6 1023.9 L1544.4 1031.2 L1546.2 1011.9 L1548.1 1018.7 L1549.9 1001.3 L1551.7 1007.5 L1553.5 991.2 L1555.3 992.5 L1556.8 970.9 L1558.4 970.3 L1559.9 951.2 L1561.7 952.6 L1563.6 934.7 L1565.4 936.8 L1567.2 922.1 L1569.0 932.7 L1570.8 914.8 L1572.6 924.7 L1574.4 912.8 L1576.1 919.7 L1577.7 902.9 L1579.3 912.8 L1580.9 904.3 L1582.6 913.3 L1584.1 904.5 L1585.6 922.4 L1587.1 921.5 L1588.9 935.0 L1590.7 932.2 L1592.5 954.6 L1594.3 944.8 L1596.2 961.4 L1598.0 948.4 L1599.8 967.7 L1601.6 952.4 L1603.4 968.9 L1605.2 962.6 L1607.0 978.5 L1608.8 959.3 L1610.7 976.8 L1612.5 961.1 L1614.3 973.1 L1616.1 955.3 L1617.9 966.2 L1619.7 948.7 L1621.5 951.6 L1623.3 934.5 L1625.1 936.8 L1627.0 910.2 L1628.8 914.2 L1630.6 897.5 L1632.4 901.1 L1634.2 880.6 L1636.0 881.4 L1637.8 857.8 L1639.6 874.0 L1641.4 856.9 L1643.3 867.2 L1645.1 845.5 L1646.9 847.4 L1648.7 829.0 L1650.5 846.9 L1652.3 841.8 L1654.1 852.6 L1655.9 846.8 L1657.8 862.8 L1659.6 857.7 L1661.4 873.2 L1663.2 859.9 L1665.0 879.0 L1666.8 861.4 L1668.6 882.9 L1670.4 876.9 L1672.2 895.0 L1674.1 876.3 L1675.9 899.3 L1677.7 891.2 L1679.5 899.8 L1681.3 886.9 L1683.1 896.4 L1684.9 882.7 L1686.7 890.3 L1688.6 874.5 L1690.4 882.2 L1692.2 866.4 L1694.0 867.4 L1695.8 852.7 L1697.6 854.8 L1699.4 836.6 L1701.2 839.0 L1703.0 822.9 L1704.9 822.0 L1706.7 803.2 L1708.5 807.2 L1710.3 788.3 L1712.1 798.4 L1713.9 780.2 L1715.7 791.2 L1717.5 778.7 L1719.3 782.0 L1721.2 767.2 L1723.0 780.5 L1724.8 768.6 L1726.6 783.8 L1728.4 777.3 L1730.2 803.8 L1732.0 793.5 L1733.8 807.1 L1735.7 797.1 L1737.5 812.0 L1739.3 795.6 L1741.1 811.8 L1742.9 804.2 L1744.7 821.8 L1746.5 818.1 L1748.3 834.5 L1750.1 825.9 L1752.0 834.5 L1753.8 820.1 L1755.6 826.0 L1757.4 813.4 L1758.7 825.0 L1760.0 812.3 L1761.8 817.4 L1763.6 796.8 L1765.4 806.7 L1767.2 786.7 L1769.1 791.1 L1770.9 771.1 L1772.7 775.9 L1774.5 754.5 L1776.3 763.6 L1778.1 747.2 L1779.9 750.0 L1781.7 732.4 L1783.6 741.6 L1785.4 729.1 L1787.2 733.6 L1789.0 722.4 L1790.8 732.7 L1792.4 722.4 L1794.1 729.4 L1795.7 715.3 L1797.3 729.3 L1798.9 712.5 L1800.5 732.3 L1802.0 730.4 L1803.5 744.4 L1805.3 743.0 L1807.1 756.7 L1808.9 749.1 L1810.7 769.4 L1812.5 759.5 L1814.3 778.8 L1816.2 761.4 L1818.0 776.5 L1819.8 763.2 L1821.6 782.8 L1823.4 774.1 L1825.2 781.4 L1827.0 768.4 L1828.8 773.7 L1830.7 765.5 L1832.5 771.5 L1834.3 755.6 L1836.1 762.1 L1837.9 749.1 L1839.7 753.3 L1841.5 737.6 L1843.3 739.9 L1845.1 725.8 L1847.0 732.3 L1848.8 719.3 L1850.6 724.6 L1852.4 707.8 L1854.2 712.4 L1856.0 701.7 L1857.8 704.8 L1859.6 692.7 L1861.1 696.8 L1862.7 677.3 L1864.2 691.4 L1865.8 680.2 L1867.3 692.2 L1868.9 682.4 L1870.5 699.3 L1872.3 684.6 L1874.1 697.9 L1875.9 689.1 L1877.8 697.5 L1879.6 695.2 L1881.4 713.8 L1883.2 701.0 L1885.0 722.3 L1886.8 716.1 L1888.6 736.3 L1890.4 731.5 L1892.2 747.4 L1894.1 739.2 L1895.9 751.5 L1897.7 741.3 L1899.5 751.5 L1901.3 737.2 L1903.1 744.3 L1904.9 731.4 L1906.7 744.7 L1908.6 729.6 L1910.4 738.6 L1912.2 722.7 L1914.0 726.8 L1915.8 708.4 L1917.6 712.3 L1919.4 695.7 L1921.2 700.9 L1923.0 684.1 L1924.9 695.5 L1926.7 676.4 L1928.5 692.2 L1930.3 673.4 L1932.1 681.0 L1933.9 665.7 L1935.5 672.5 L1937.1 654.5 L1938.7 664.1 L1940.3 653.8 L1941.8 665.9 L1943.4 659.2 L1945.0 671.9 L1946.6 665.6 L1948.4 676.1 L1950.2 672.5 L1952.0 690.3 L1953.8 681.7 L1955.7 699.7 L1957.5 698.6 L1959.3 718.3 L1961.1 708.1 L1962.9 727.0 L1964.7 713.9 L1966.5 730.4 L1968.3 722.1 L1970.1 738.6 L1972.0 726.9 L1973.8 746.1 L1975.6 733.9 L1977.4 748.4 L1979.2 736.2 L1981.0 744.7 L1982.8 725.9 L1984.6 738.2 L1986.4 717.2 L1988.3 724.6 L1990.1 707.2 L1991.9 712.1 L1993.7 693.0 L1995.5 694.1 L1997.3 680.8 L1999.1 689.5 L2000.9 674.9 L2002.8 685.4 L2004.6 666.1 L2006.4 677.5 L2008.0 667.7 L2009.5 674.0 L2011.1 657.2 L2012.7 668.6 L2014.3 656.9 L2015.9 670.3 L2017.5 663.0 L2019.1 675.1 L2020.9 668.2 L2022.7 681.6 L2024.5 673.2 L2026.3 686.4 L2028.1 676.1 L2029.9 700.4 L2031.7 695.0 L2033.6 710.6 L2035.4 702.6 L2037.2 720.9 L2039.0 717.9 L2040.8 730.9 L2042.6 719.4 L2044.4 742.2 L2046.0 738.2 L2047.6 751.0 L2049.2 746.7 L2050.8 761.5 L2052.3 747.4 L2053.9 753.5 L2055.5 744.0 L2057.1 757.0 L2058.9 739.1 L2060.7 746.3 L2062.5 732.9 L2064.3 739.3 L2066.2 723.0 L2068.0 726.1 L2069.8 710.7 L2071.6 721.4 L2073.4 698.3 L2075.2 708.0 L2077.0 685.1 L2078.8 697.8 L2080.7 681.3 L2082.5 686.1 L2084.3 670.9 L2086.1 682.6 L2087.9 670.6 L2089.7 682.5 L2091.5 673.6 L2093.3 690.3 L2095.1 680.8 L2097.0 695.7 L2098.8 689.1 L2100.6 708.6 L2102.4 693.8 L2104.2 719.4 L2106.0 712.3 L2107.8 736.9 L2109.6 737.0 L2111.4 759.5 L2113.3 753.3 L2115.1 772.7 L2116.9 768.8 L2118.5 782.0 L2120.1 771.4 L2121.6 785.1 L2123.2 780.7 L2124.8 785.1 L2126.4 775.4 L2128.0 779.9 L2129.6 770.0 L2131.4 778.7 L2133.2 762.0 L2135.0 770.8 L2136.8 763.0"/>
<path stroke="#FBAE0A" d="M193.4 1069.7 L195.2 1079.3 L197.1 1067.4 L198.9 1078.5 L200.7 1069.9 L202.5 1084.6 L204.3 1068.1 L206.1 1083.9 L207.9 1075.6 L209.7 1086.0 L211.6 1072.5 L213.4 1093.2 L215.2 1076.8 L216.8 1085.7 L218.3 1073.5 L219.9 1084.0 L221.5 1069.6 L223.1 1075.5 L224.7 1062.4 L226.3 1069.8 L227.9 1059.7 L229.7 1065.1 L231.5 1044.5 L233.3 1055.7 L235.1 1034.7 L236.9 1043.6 L238.7 1026.1 L240.5 1030.1 L242.3 1016.8 L244.2 1028.7 L246.0 1002.4 L247.8 1006.5 L249.6 991.2 L251.4 998.9 L253.2 979.6 L255.0 987.8 L256.8 972.9 L258.7 977.2 L260.5 963.9 L262.3 973.6 L264.1 958.6 L265.9 962.2 L267.7 947.6 L269.5 954.3 L271.3 942.2 L273.1 954.0 L275.0 934.9 L276.8 940.1 L278.6 926.6 L280.4 936.8 L282.2 925.3 L284.0 932.9 L285.8 919.7 L287.6 928.7 L289.4 916.6 L291.3 922.1 L293.1 910.9 L294.9 919.5 L296.7 903.4 L298.5 912.3 L300.3 897.9 L302.1 904.8 L303.9 884.2 L305.8 885.9 L307.6 874.1 L309.4 881.2 L311.2 867.0 L313.0 869.7 L314.8 857.6 L316.6 861.7 L318.4 851.0 L320.0 858.3 L321.7 844.1 L323.3 851.3 L324.9 831.4 L326.5 842.5 L328.1 830.6 L329.7 841.1 L331.3 826.5 L332.9 831.1 L334.7 819.1 L336.6 826.4 L338.4 807.5 L340.2 817.1 L342.0 802.2 L343.8 808.0 L345.6 794.8 L347.4 803.9 L349.2 779.5 L351.0 789.2 L352.9 777.9 L354.7 785.1 L356.5 764.6 L358.3 771.1 L360.1 758.2 L361.9 764.3 L363.7 746.3 L365.5 756.4 L367.3 742.1 L369.2 751.1 L371.0 732.0 L372.8 746.2 L374.6 727.7 L376.4 738.1 L378.2 718.9 L380.0 730.6 L381.8 709.7 L383.7 714.9 L385.5 699.5 L387.3 714.2 L389.1 695.4 L390.9 701.7 L392.7 682.2 L394.5 688.2 L396.3 675.8 L398.1 679.9 L400.0 664.1 L401.8 673.5 L403.6 660.0 L405.4 666.6 L406.8 640.6 L408.1 656.2 L409.7 635.5 L411.4 643.3 L413.0 628.8 L414.6 643.1 L416.3 628.4 L418.1 640.3 L419.9 621.2 L421.7 631.5 L423.5 609.9 L425.3 617.9 L427.1 606.0 L428.9 611.3 L430.8 601.2 L432.6 605.7 L434.4 588.8 L436.2 599.0 L438.0 588.2 L439.8 597.8 L441.6 579.1 L443.4 587.9 L445.2 570.7 L447.1 587.7 L448.9 570.6 L450.7 574.7 L452.5 564.6 L454.3 576.3 L456.1 559.5 L457.9 565.6 L459.7 552.1 L460.5 554.2 L462.3 540.5 L464.1 548.5 L465.9 533.4 L467.7 542.9 L469.5 530.9 L471.3 536.5 L473.1 523.7 L475.0 528.7 L476.8 517.0 L478.6 522.6 L480.4 511.1 L482.2 516.9 L484.0 502.0 L485.8 515.4 L487.6 499.9 L489.4 505.0 L491.3 496.0 L493.1 503.6 L494.9 490.6 L496.7 497.8 L498.5 485.3 L500.3 493.6 L502.1 475.6 L503.9 490.4 L505.8 477.6 L507.6 483.1 L509.4 469.8 L511.2 475.4 L513.0 463.4 L514.8 471.4 L516.6 460.4 L518.4 468.1 L520.2 455.8 L522.1 467.6 L523.9 444.5 L525.7 461.2 L527.5 439.5 L529.3 454.9 L531.1 437.3 L532.9 450.4 L534.7 439.1 L536.6 445.1 L538.4 431.7 L540.2 441.5 L542.0 429.4 L543.8 438.6 L545.6 428.9 L547.4 436.1 L549.2 425.2 L551.0 434.0 L552.9 416.3 L554.7 435.1 L556.5 418.2 L558.3 427.0 L560.1 412.4 L561.9 428.1 L563.7 413.4 L565.5 421.7 L567.3 408.3 L569.2 425.7 L571.0 409.8 L572.8 420.5 L574.6 408.4 L576.4 420.1 L578.2 403.6 L580.0 413.8 L581.8 402.9 L583.7 412.2 L585.5 402.4 L587.3 410.9 L589.1 398.2 L590.9 408.4 L592.7 396.4 L594.5 405.5 L596.3 397.3 L598.1 407.6 L600.0 395.3 L601.8 412.6 L603.6 394.8 L605.4 407.8 L607.2 400.3 L609.0 416.3 L610.8 393.5 L612.6 412.8 L614.4 400.8 L616.3 414.2 L618.1 401.6 L619.9 415.0 L621.7 394.3 L623.5 418.0 L625.3 408.0 L627.1 416.6 L628.9 404.9 L630.8 419.0 L632.6 409.7 L634.4 425.5 L636.2 409.3 L638.0 418.2 L639.8 409.5 L641.6 421.4 L643.4 405.8 L645.2 421.9 L647.1 406.9 L648.9 427.6 L650.7 411.1 L652.5 421.5 L654.3 412.6 L656.1 428.2 L657.9 413.2 L659.7 421.7 L661.6 411.0 L663.4 429.3 L665.2 411.0 L667.0 425.5 L668.8 418.7 L670.6 431.3 L672.4 423.2 L674.2 434.6 L676.0 426.6 L677.9 437.7 L679.7 426.4 L681.5 445.1 L683.3 431.0 L685.1 446.9 L686.9 435.6 L688.7 450.7 L690.5 441.9 L692.3 457.2 L694.2 443.0 L696.0 455.9 L697.8 450.3 L699.6 458.5 L701.4 453.4 L703.2 466.0 L705.0 457.9 L706.8 471.2 L708.7 462.5 L710.5 477.4 L712.3 470.5 L714.1 479.6 L715.9 473.4 L717.7 485.4 L719.5 481.4 L721.3 496.3 L723.1 484.8 L725.0 496.8 L726.8 489.4 L728.6 502.2 L730.4 497.3 L732.2 509.1 L734.0 501.1 L735.8 515.4 L737.6 498.7 L739.4 516.8 L741.3 511.1 L743.1 524.8 L744.9 511.9 L746.7 529.2 L748.5 521.2 L750.3 533.1 L752.1 525.8 L753.9 540.8 L755.8 533.1 L757.6 544.9 L759.4 540.0 L761.2 555.3 L763.0 546.7 L764.8 560.6 L766.6 547.6 L768.4 569.5 L770.2 559.5 L772.1 573.5 L773.9 568.0 L775.7 581.0 L777.5 574.2 L779.3 588.6 L781.1 579.8 L782.9 595.4 L784.7 586.1 L786.6 601.2 L788.2 601.8 L789.9 617.1 L791.6 614.7 L793.4 629.9 L795.2 619.5 L797.0 638.4 L798.8 632.7 L800.6 643.5 L802.4 637.8 L804.3 653.4 L806.1 648.2 L807.9 659.5 L809.7 655.2 L811.5 672.4 L813.3 661.8 L815.1 679.7 L816.9 668.4 L818.8 685.3 L820.6 679.7 L822.4 695.9 L824.2 687.1 L826.0 707.2 L827.8 697.4 L829.6 712.6 L831.4 702.1 L833.2 728.2 L835.1 715.1 L836.9 731.1 L838.7 725.5 L840.5 740.7 L842.3 734.4 L844.1 752.0 L845.9 739.3 L847.7 763.7 L849.6 749.2 L851.4 765.6 L853.2 757.3 L855.0 772.5 L856.8 763.4 L858.6 781.4 L860.4 773.9 L862.2 787.3 L864.0 777.0 L865.9 795.2 L867.7 789.9 L869.5 802.8 L871.3 798.5 L873.1 817.3 L874.9 807.9 L876.7 822.1 L878.5 815.1 L880.1 835.8 L881.6 831.8 L883.2 850.1 L884.7 841.1 L886.5 860.6 L888.3 854.0 L890.1 868.2 L891.9 862.5 L893.8 877.4 L895.6 877.2 L897.4 890.1 L899.2 885.5 L901.0 900.9 L902.8 896.1 L904.6 909.2 L906.4 895.3 L908.2 920.3 L910.1 912.9 L911.9 927.4 L913.7 918.2 L915.5 936.3 L917.3 927.8 L919.1 944.5 L920.9 941.1 L922.7 956.5 L924.6 950.3 L926.4 961.7 L928.2 955.8 L930.0 971.3 L931.8 965.3 L933.6 979.5 L935.4 974.5 L937.2 989.0 L939.0 987.9 L940.9 1003.6 L942.7 995.8 L944.5 1013.9 L946.3 1007.3 L948.1 1021.3 L949.9 1014.5 L951.7 1040.0 L953.5 1025.2 L955.3 1044.8 L957.2 1033.6 L959.0 1049.7 L960.8 1046.6 L962.3 1062.5 L963.9 1050.8 L965.5 1066.1 L967.0 1057.1 L968.8 1077.3 L970.7 1071.5 L972.5 1083.9 L974.3 1073.1 L976.1 1096.4 L977.9 1083.0 L979.7 1098.4 L981.5 1090.7 L983.3 1106.3 L985.1 1095.8 L987.0 1111.1 L988.8 1103.6 L990.6 1117.2 L992.4 1111.0 L994.2 1124.6 L996.0 1114.7 L997.8 1131.0 L999.6 1128.1 L1001.4 1142.7 L1003.3 1128.9 L1005.1 1149.0 L1006.9 1140.3 L1008.7 1158.6 L1010.5 1152.9 L1012.3 1167.0 L1014.1 1157.3 L1015.9 1178.9 L1017.8 1166.9 L1019.6 1182.4 L1021.4 1170.7 L1023.2 1189.3 L1025.0 1179.6 L1026.8 1193.0 L1028.6 1188.0 L1030.4 1204.2 L1032.2 1191.7 L1034.1 1212.9 L1035.9 1196.9 L1037.7 1215.6 L1039.5 1208.2 L1041.3 1223.0 L1043.1 1215.3 L1044.9 1234.4 L1046.7 1219.3 L1048.6 1231.8 L1050.4 1228.4 L1052.2 1245.4 L1054.0 1231.3 L1055.8 1247.9 L1057.6 1233.7 L1059.4 1249.7 L1061.2 1242.3 L1063.0 1251.9 L1064.9 1244.4 L1066.7 1261.9 L1068.5 1245.8 L1070.3 1268.1 L1072.1 1259.9 L1073.9 1273.5 L1075.5 1259.6 L1077.1 1272.7 L1078.7 1263.1 L1080.3 1282.0 L1081.8 1263.5 L1083.4 1278.1 L1085.0 1268.1 L1086.6 1281.3 L1088.4 1276.0 L1090.2 1285.9 L1092.0 1275.6 L1093.8 1289.3 L1095.7 1271.6 L1097.5 1290.7 L1099.3 1283.2 L1101.1 1300.4 L1102.9 1286.9 L1104.7 1295.3 L1106.5 1289.7 L1108.3 1298.1 L1110.1 1287.4 L1112.0 1299.1 L1113.8 1292.3 L1115.6 1307.6 L1117.4 1294.4 L1119.2 1301.1 L1121.0 1292.2 L1122.8 1302.3 L1124.6 1291.7 L1126.4 1314.1 L1128.3 1299.2 L1130.1 1310.9"/>
<path stroke="#8A2594" stroke-width="4.8" d="M193.4 1069.7 L195.2 1075.4 L197.1 1063.8 L198.9 1072.0 L200.7 1065.8 L202.5 1074.3 L204.3 1070.3 L206.1 1074.5 L207.9 1067.2 L209.7 1072.9 L211.6 1062.7 L213.4 1077.2 L215.2 1067.2 L216.7 1075.6 L218.2 1066.2 L219.7 1075.3 L221.2 1057.3 L222.7 1062.2 L224.2 1039.1 L226.0 1041.5 L227.9 1027.4 L229.7 1028.0 L231.5 1014.3 L233.3 1011.5 L235.1 994.6 L236.9 996.6 L238.7 968.4 L240.5 970.7 L242.3 949.0 L244.2 949.8 L246.0 928.7 L247.8 928.4 L249.6 912.8 L251.4 911.7 L253.2 897.3 L255.0 897.8 L256.8 878.1 L258.7 883.6 L260.5 871.5 L262.3 879.4 L264.1 868.9 L265.9 882.6 L267.7 874.7 L269.5 885.8 L271.3 875.3 L273.1 889.5 L275.0 885.8 L276.8 900.6 L278.6 901.1 L280.4 921.0 L282.2 919.2 L283.8 938.4 L285.4 929.8 L287.0 946.1 L288.5 945.2 L290.2 950.9 L291.8 941.1 L293.4 952.6 L295.1 939.8 L296.7 946.4 L298.5 926.9 L300.3 930.2 L302.1 913.4 L303.9 904.4 L305.8 882.9 L307.6 878.5 L309.4 848.6 L311.2 844.4 L313.0 822.2 L314.8 812.2 L316.6 789.3 L318.4 779.2 L320.2 762.8 L322.1 762.0 L323.9 741.3 L325.7 744.2 L327.5 725.8 L329.3 729.5 L331.1 711.5 L332.9 714.6 L334.7 718.3 L336.6 733.4 L338.4 731.4 L340.2 756.9 L342.0 762.4 L343.8 786.1 L345.6 785.5 L347.4 819.0 L349.2 824.8 L351.0 852.0 L352.9 859.1 L354.7 885.7 L356.5 885.2 L358.3 906.3 L360.1 907.3 L361.9 924.9 L363.7 924.2 L365.5 926.7 L367.3 913.7 L369.2 926.6 L371.0 901.4 L372.8 901.5 L374.6 883.3 L376.4 868.9 L378.2 832.0 L380.0 817.6 L381.8 777.4 L383.7 758.4 L385.5 712.3 L387.3 700.1 L389.1 654.5 L390.9 633.4 L392.7 604.2 L394.5 597.3 L396.3 563.4 L397.9 564.4 L399.5 548.3 L401.1 554.6 L402.7 542.5 L404.2 555.6 L405.7 553.8 L407.2 575.1 L409.0 585.3 L410.8 623.9 L412.6 643.7 L414.4 684.9 L416.3 704.2 L418.1 743.0 L419.4 764.3 L420.8 810.3 L422.1 815.5 L423.5 845.6 L425.3 866.3 L427.1 916.1 L428.6 925.4 L430.1 954.5 L431.7 966.4 L433.2 993.6 L434.7 994.9 L436.2 1015.9 L438.0 998.7 L439.8 1000.9 L441.6 982.4 L443.4 971.5 L445.2 945.2 L447.1 930.9 L448.4 884.0 L449.8 857.2 L450.7 835.8 L452.5 783.2 L454.3 718.2 L456.1 662.8 L457.9 589.5 L459.6 559.3 L461.2 506.8 L462.8 469.7 L464.4 419.9 L466.1 388.4 L467.7 338.9"/>
</g>
<line x1="193.65" y1="826.20" x2="2134.70" y2="826.20" stroke="#101010" stroke-width="5.2" stroke-dasharray="4.8 5.65" stroke-dashoffset="-0.6"/>
<rect x="1287.20" y="186.40" width="805.80" height="335.00" fill="#ffffff"/>
<g stroke="#1c1c1c" stroke-width="2.4" fill="none">
<line x1="1287.20" y1="184.40" x2="1287.20" y2="522.60"/>
<line x1="2093.00" y1="184.40" x2="2093.00" y2="522.60"/>
<line x1="1286.00" y1="521.40" x2="2094.20" y2="521.40"/>
</g>
<line x1="1286.00" y1="186.40" x2="2092.00" y2="186.40" stroke="#949494" stroke-width="4.6"/>
<line x1="1302.8" y1="234.30" x2="1459.4" y2="234.30" stroke="#0074C2" stroke-width="4.8"/>
<line x1="1302.8" y1="314.50" x2="1459.4" y2="314.50" stroke="#EF5014" stroke-width="4.8"/>
<line x1="1302.8" y1="394.90" x2="1459.4" y2="394.90" stroke="#FBAE0A" stroke-width="4.8"/>
<line x1="1302.8" y1="475.20" x2="1459.4" y2="475.20" stroke="#8A2594" stroke-width="4.8"/>
<line x1="904.6" y1="79.1" x2="1253.4" y2="79.1" stroke="#111" stroke-width="2.5"/>
<text transform="matrix(1.1818 0 0 1.0143 652.60 98.00)" font-size="75" stroke-width="1.4" font-style="italic">P</text>
<text transform="matrix(0.9050 0 0 1.0970 710.88 98.55)" font-size="75">(</text>
<text transform="matrix(1.0885 0 0 0.8972 738.51 97.70)" font-size="75" font-style="italic">s</text>
<text transform="matrix(0.8450 0 0 1.0970 773.01 98.55)" font-size="75">)</text>
<text transform="matrix(1.4200 0 0 0.8474 816.02 101.01)" font-size="75" stroke-width="0.01">=</text>
<text transform="matrix(1.0722 0 0 1.0000 1064.24 69.70)" font-size="52" stroke-width="0.5">1</text>
<text transform="matrix(1.1068 0 0 0.9702 906.99 123.53)" font-size="52" stroke-width="0.5">(2<tspan font-style="italic">s</tspan>−1)(0.5<tspan font-style="italic">s</tspan>+1)</text>
<text transform="matrix(0.9467 0 0 0.7972 1263.71 98.10)" font-size="75" font-style="italic">e</text>
<text transform="matrix(1.0573 0 0 0.9500 1297.73 70.85)" font-size="52" stroke-width="0.5">−0.5</text>
<text transform="matrix(1.2444 0 0 0.8769 1399.26 70.92)" font-size="52" stroke-width="0.5" font-style="italic">s</text>
<text transform="matrix(1.1091 0 0 1.1842 1430.47 99.47)" font-size="75">,</text>
<text transform="matrix(1.0759 0 0 1.0122 1546.85 98.10)" font-size="75">PID</text>
<text transform="matrix(1.1176 0 0 0.9085 1471.58 250.28)" font-size="68" font-weight="bold">p</text>
<text transform="matrix(0.9500 0 0 0.9469 1512.60 264.90)" font-size="48" stroke-width="0.5">0</text>
<text transform="matrix(0.9500 0 0 1.0588 1541.05 252.41)" font-size="68">,</text>
<text transform="matrix(1.1281 0 0 1.0333 1572.17 249.67)" font-size="68" font-style="italic">J</text>
<text transform="matrix(1.0450 0 0 0.9469 1603.51 259.20)" font-size="48" stroke-width="0.5">0</text>
<text transform="matrix(1.3656 0 0 0.8353 1648.00 251.89)" font-size="68" stroke-width="0.01">=</text>
<text transform="matrix(0.9708 0 0 0.9478 1716.88 248.75)" font-size="68">1.0225</text>
<text transform="matrix(0.8778 0 0 0.8970 1903.24 249.00)" font-size="68" font-style="italic">e</text>
<text transform="matrix(1.3656 0 0 1.3656 1945.50 264.06)" font-size="68" stroke-width="0.2">+</text>
<text transform="matrix(0.9656 0 0 0.9478 2012.20 248.75)" font-size="68">02</text>
<text transform="matrix(1.1176 0 0 0.9085 1471.58 330.58)" font-size="68" font-weight="bold">p</text>
<text transform="matrix(0.9500 0 0 0.9469 1512.60 345.20)" font-size="48" stroke-width="0.5">1</text>
<text transform="matrix(0.9500 0 0 1.0588 1541.05 332.71)" font-size="68">,</text>
<text transform="matrix(1.1281 0 0 1.0333 1572.17 329.97)" font-size="68" font-style="italic">J</text>
<text transform="matrix(1.0450 0 0 0.9469 1603.51 339.50)" font-size="48" stroke-width="0.5">1</text>
<text transform="matrix(1.3656 0 0 0.8353 1648.00 332.19)" font-size="68" stroke-width="0.01">=</text>
<text transform="matrix(0.9708 0 0 0.9478 1716.88 329.05)" font-size="68">1.9751</text>
<text transform="matrix(0.8778 0 0 0.8970 1903.24 329.30)" font-size="68" font-style="italic">e</text>
<text transform="matrix(1.3656 0 0 1.3656 1945.50 344.36)" font-size="68" stroke-width="0.2">+</text>
<text transform="matrix(0.9656 0 0 0.9478 2012.20 329.05)" font-size="68">02</text>
<text transform="matrix(1.1176 0 0 0.9085 1471.58 410.88)" font-size="68" font-weight="bold">p</text>
<text transform="matrix(0.9500 0 0 0.9469 1512.60 425.50)" font-size="48" stroke-width="0.5">2</text>
<text transform="matrix(0.9500 0 0 1.0588 1541.05 413.01)" font-size="68">,</text>
<text transform="matrix(1.1281 0 0 1.0333 1572.17 410.27)" font-size="68" font-style="italic">J</text>
<text transform="matrix(1.0450 0 0 0.9469 1603.51 419.80)" font-size="48" stroke-width="0.5">2</text>
<text transform="matrix(1.3656 0 0 0.8353 1648.00 412.49)" font-size="68" stroke-width="0.01">=</text>
<text transform="matrix(0.9708 0 0 0.9478 1716.88 409.35)" font-size="68">2.5865</text>
<text transform="matrix(0.8778 0 0 0.8970 1903.24 409.60)" font-size="68" font-style="italic">e</text>
<text transform="matrix(1.3656 0 0 1.3656 1945.50 424.66)" font-size="68" stroke-width="0.2">+</text>
<text transform="matrix(0.9656 0 0 0.9478 2012.20 409.35)" font-size="68">08</text>
<text transform="matrix(1.1176 0 0 0.9085 1471.58 491.18)" font-size="68" font-weight="bold">p</text>
<text transform="matrix(0.9500 0 0 0.9469 1512.60 505.80)" font-size="48" stroke-width="0.5">3</text>
<text transform="matrix(0.9500 0 0 1.0588 1541.05 493.31)" font-size="68">,</text>
<text transform="matrix(1.1281 0 0 1.0333 1572.17 490.57)" font-size="68" font-style="italic">J</text>
<text transform="matrix(1.0450 0 0 0.9469 1603.51 500.10)" font-size="48" stroke-width="0.5">3</text>
<text transform="matrix(1.3656 0 0 0.8353 1648.00 492.79)" font-size="68" stroke-width="0.01">=</text>
<text transform="matrix(0.9708 0 0 0.9478 1716.88 489.65)" font-size="68">4.2925</text>
<text transform="matrix(0.8778 0 0 0.8970 1903.24 489.90)" font-size="68" font-style="italic">e</text>
<text transform="matrix(1.3656 0 0 1.3656 1945.50 504.96)" font-size="68" stroke-width="0.2">+</text>
<text transform="matrix(0.9656 0 0 0.9478 2012.20 489.65)" font-size="68">08</text>
<text transform="matrix(0.8244 0 0 0.9208 2162.95 357.45)" font-size="78" stroke-width="1.3" font-style="italic">y</text>
<text transform="matrix(1.1080 0 0 0.8778 2190.58 366.92)" font-size="54" stroke-width="1.2" font-style="italic">max</text>
<text transform="matrix(1.1259 0 0 0.9405 2153.62 845.00)" font-size="78" stroke-width="1.3" font-style="italic">r</text>
<text transform="matrix(0.8244 0 0 0.9170 2162.95 1330.21)" font-size="78" stroke-width="1.3" font-style="italic">y</text>
<text transform="matrix(1.1662 0 0 0.9278 2190.47 1340.70)" font-size="54" stroke-width="1.2" font-style="italic">min</text>
<text transform="matrix(0 -0.8244 0.8736 0 64.35 837.45)" font-size="78" stroke-width="1.3" font-style="italic">y</text>
<text transform="matrix(0.9973 0 0 0.9588 1085.50 1686.34)" font-size="74">Time</text>
<text transform="translate(175.15 1599.00)" font-size="74">0</text>
<text transform="translate(543.36 1599.00)" font-size="74">10</text>
<text transform="translate(933.07 1599.00)" font-size="74">20</text>
<text transform="translate(1320.78 1599.00)" font-size="74">30</text>
<text transform="translate(1710.49 1599.00)" font-size="74">40</text>
<text transform="translate(2097.20 1599.00)" font-size="74">50</text>
<text transform="translate(126.60 364.40)" font-size="74">3</text>
<text transform="translate(127.60 608.70)" font-size="74">2</text>
<text transform="translate(127.60 852.00)" font-size="74">1</text>
<text transform="translate(126.60 1094.30)" font-size="74">0</text>
<text transform="translate(103.60 1338.60)" font-size="74">-1</text>
</svg></body></html>
